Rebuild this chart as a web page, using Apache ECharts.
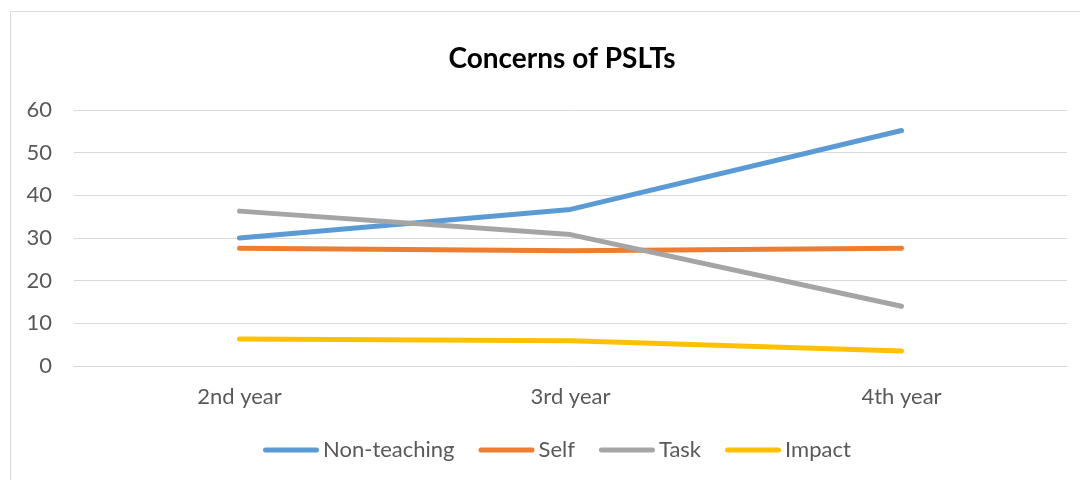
<!DOCTYPE html>
<html lang="en">
<head>
    <meta charset="UTF-8">
    <title>Concerns of PSLTs</title>
    <script src="https://cdn.jsdelivr.net/npm/echarts@6/dist/echarts.min.js"></script>
    <style>
        html, body { margin: 0; padding: 0; background: #fff; }
    </style>
</head>
<body>
<div id="main" style="width: 1080px;height: 480px"></div>
<script>
    var years = ['2nd year', '3rd year', '4th year'];
    var nonTeaching = [30.0, 36.7, 55.2];
    var self = [27.6, 27.0, 27.6];
    var task = [36.3, 30.8, 14.0];
    var impact = [6.3, 5.9, 3.5];

    var textGray = '#595959';
    var font = 'Lato, "Open Sans", sans-serif';
    // capsule shaped legend mark, like a thick round-capped line
    var capsule = 'path://M2.5,0H53.5A2.5,2.5,0,0,1,53.5,5H2.5A2.5,2.5,0,0,1,2.5,0Z';

    function lineSeries(name, data, color) {
        return {
            name: name,
            type: 'line',
            data: data,
            symbol: 'none',
            lineStyle: { width: 5, color: color, cap: 'round', join: 'round' },
            itemStyle: { color: color }
        };
    }

    var myChart = echarts.init(document.getElementById('main'));
    var option = {
        animation: false,
        backgroundColor: '#fff',
        textStyle: { fontFamily: font },
        title: {
            text: 'Concerns of PSLTs',
            left: 557,
            textAlign: 'center',
            top: 40,
            textStyle: { fontSize: 28, fontWeight: 'bold', color: '#000', fontFamily: font }
        },
        graphic: [{
            type: 'rect',
            shape: { x: 10.5, y: 11.5, width: 1200, height: 600 },
            style: { fill: 'none', stroke: '#d9d9d9', lineWidth: 1 },
            silent: true
        }],
        legend: {
            top: 434,
            left: 258,
            icon: capsule,
            itemWidth: 56,
            itemHeight: 5,
            itemGap: 24,
            textStyle: { fontSize: 22, color: textGray, fontFamily: font, padding: [0, 0, 0, -1] },
            data: ['Non-teaching', 'Self', 'Task', 'Impact']
        },
        grid: { left: 74, right: 13, top: 110, bottom: 114 },
        xAxis: {
            type: 'category',
            data: years,
            boundaryGap: true,
            axisLine: { show: true, lineStyle: { color: '#d9d9d9', width: 1 } },
            axisTick: { show: false },
            axisLabel: { fontSize: 22, color: textGray, margin: 20, fontFamily: font }
        },
        yAxis: {
            type: 'value',
            min: 0,
            max: 60,
            interval: 10,
            axisLine: { show: false },
            axisTick: { show: false },
            splitLine: { lineStyle: { color: '#d9d9d9', width: 1 } },
            axisLabel: { fontSize: 22, color: textGray, margin: 22, fontFamily: font }
        },
        series: [
            lineSeries('Non-teaching', nonTeaching, '#5b9bd5'),
            lineSeries('Self', self, '#ed7d31'),
            lineSeries('Task', task, '#a5a5a5'),
            lineSeries('Impact', impact, '#ffc000')
        ]
    };
    myChart.setOption(option);
</script>
</body>
</html>
